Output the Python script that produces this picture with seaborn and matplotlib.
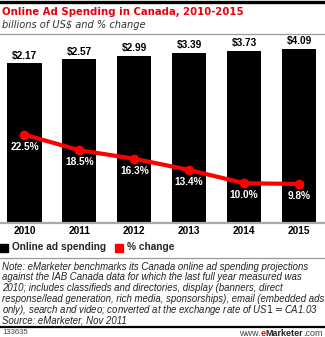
import numpy as np
import pandas as pd
import seaborn as sns
import matplotlib
matplotlib.use("Agg")
import matplotlib.pyplot as plt
from matplotlib.lines import Line2D
from matplotlib.patches import Rectangle

# ---- data ----
years = ["2010", "2011", "2012", "2013", "2014", "2015"]
spending = [2.17, 2.57, 2.99, 3.39, 3.73, 4.09]      # billions of US$
pct_change = [22.5, 18.5, 16.3, 13.4, 10.0, 9.8]      # % change
title = "Online Ad Spending in Canada, 2010-2015"
subtitle = "billions of US$ and % change"
legend_labels = ["Online ad spending", "% change"]
note_lines = [
    "Note: eMarketer benchmarks its Canada online ad spending projections",
    "against the IAB Canada data for which the last full year measured was",
    "2010; includes classifieds and directories, display (banners, direct",
    "response/lead generation, rich media, sponsorships), email (embedded ads",
    "only), search and video; converted at the exchange rate of US$1=CA$1.03",
    "Source: eMarketer, Nov 2011",
]
chart_id = "133635"

RED = "#ff0000"
TITLE_RED = "#e8000b"

sns.set_theme(style="white")
plt.rcParams["font.family"] = ["Liberation Sans", "DejaVu Sans"]

W, H = 325, 337
fig = plt.figure(figsize=(W / 100, H / 100), dpi=100)
fig.patch.set_facecolor("white")


def fy(y):
    return 1 - y / H


def fx(x):
    return x / W


df = pd.DataFrame({"year": years, "spending": spending, "pct": pct_change})

ax_bottom, ax_top = 222, 40
ax = fig.add_axes([0, fy(ax_bottom), 1, (ax_bottom - ax_top) / H])
sns.barplot(data=df, x="year", y="spending", color="black", width=0.62,
            saturation=1, ax=ax, edgecolor="none")
ax.set_yscale("log")
ax.set_ylim(0.00219, 5.98)
ax.set_xlim(-0.446, 5.474)
for s in ax.spines.values():
    s.set_visible(False)
ax.set_xlabel("")
ax.set_ylabel("")
ax.set_yticks([])
ax.yaxis.set_minor_locator(matplotlib.ticker.NullLocator())
ax.tick_params(axis="x", length=0, pad=3)
for lbl in ax.get_xticklabels():
    lbl.set_fontweight("bold")
    lbl.set_fontsize(7.3)
    lbl.set_color("black")
ax.bar_label(ax.containers[0], labels=[f"${v:.2f}" for v in spending],
             padding=2, fontsize=7.3, fontweight="bold", color="black")

ax2 = ax.twinx()
sns.lineplot(x=np.arange(len(years)), y=pct_change, ax=ax2, color=RED,
             linewidth=3.0, marker="o", markersize=7, markeredgewidth=0)
ax2.set_ylim(0, 182 / 3.88)
ax2.set_xlim(-0.446, 5.474)
ax2.set_yticks([])
for s in ax2.spines.values():
    s.set_visible(False)
ax2.set_ylabel("")
for i, p in enumerate(pct_change):
    ax2.annotate(f"{p:.1f}%", (i, p), xytext=(0, -12), textcoords="offset pixels",
                 ha="center", va="center", color="white", fontsize=7.3,
                 fontweight="bold")

# ---- decorations ----
def hline(y, color, lw):
    fig.add_artist(Line2D([0, 1], [fy(y), fy(y)], color=color, linewidth=lw,
                          transform=fig.transFigure))

hline(1.5, "black", 2.4)
hline(33.5, "#999999", 0.9)
hline(222.5, "#aaaaaa", 1.6)
hline(257.5, "#999999", 0.9)
hline(327, "black", 1.6)

fig.text(fx(2), fy(12), title, color=TITLE_RED, fontsize=7.3, fontweight="bold",
         ha="left", va="center", family="DejaVu Sans")
fig.text(fx(2), fy(24.5), subtitle, color="#333333", fontsize=7.1,
         style="italic", ha="left", va="center", family="DejaVu Sans")

# legend
fig.add_artist(Rectangle((fx(0), fy(251.5)), 8 / W, 8 / H, color="black",
                         transform=fig.transFigure))
fig.text(fx(12), fy(247.5), legend_labels[0], fontsize=7.3, fontweight="bold",
         ha="left", va="center")
fig.add_artist(Rectangle((fx(115), fy(251.5)), 8 / W, 8 / H, color=RED,
                         transform=fig.transFigure))
fig.text(fx(127), fy(247.5), legend_labels[1], fontsize=7.3, fontweight="bold",
         ha="left", va="center")

for k, line in enumerate(note_lines):
    fig.text(fx(2), fy(266.5 + k * 10.8), line, fontsize=6.9, style="italic",
             color="#222222", ha="left", va="center")

fig.text(fx(2), fy(333), chart_id, fontsize=5.6, color="#444444",
         ha="left", va="center")

# footer url, right-aligned pieces
fig.canvas.draw()
renderer = fig.canvas.get_renderer()
pieces = [("www.", "#444444", "normal"), ("e", RED, "bold"),
          ("Marketer", "#222222", "bold"), (".com", "#444444", "normal")]
x = 323
for txt, col, wt in reversed(pieces):
    t = fig.text(fx(x), fy(333), txt, fontsize=6.5, color=col, fontweight=wt,
                 ha="right", va="center")
    w = t.get_window_extent(renderer).width
    x -= w

fig.savefig("out.png", dpi=100, facecolor="white")
